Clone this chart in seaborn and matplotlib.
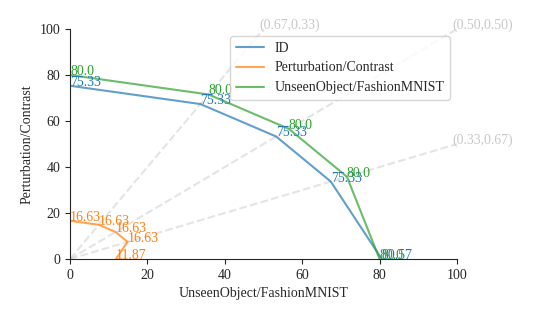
import pandas as pd
import matplotlib
matplotlib.use('Agg')
import matplotlib.pyplot as plt
import seaborn as sns

# series values
id_x = [0.0, 33.69, 53.27, 67.38, 80.57]
id_y = [75.33, 67.38, 53.27, 33.69, 0.0]
id_lbl = ['75.33', '75.33', '75.33', '75.33', '80.57']

pc_x = [0.0, 7.44, 11.76, 14.87, 11.87]
pc_y = [16.63, 14.87, 11.76, 7.44, 0.0]
pc_lbl = ['16.63', '16.63', '16.63', '16.63', '11.87']

uo_x = [0.0, 35.78, 56.57, 71.55, 80.0]
uo_y = [80.0, 71.55, 56.57, 35.78, 0.0]
uo_lbl = ['80.0', '80.0', '80.0', '80.0', '80.0']

series_names = ['ID', 'Perturbation/Contrast', 'UnseenObject/FashionMNIST']

# preference rays (end points) and their labels
ray_x = [50, 100, 100]
ray_y = [100, 100, 50]
ray_lbl = ['(0.67,0.33)', '(0.50,0.50)', '(0.33,0.67)']

sns.set_style('ticks')
plt.rcParams['font.family'] = ['Liberation Serif', 'DejaVu Serif']
plt.rcParams['font.size'] = 10

df = pd.concat([
    pd.DataFrame({'x': id_x, 'y': id_y, 'series': series_names[0]}),
    pd.DataFrame({'x': pc_x, 'y': pc_y, 'series': series_names[1]}),
    pd.DataFrame({'x': uo_x, 'y': uo_y, 'series': series_names[2]}),
], ignore_index=True)

fig = plt.figure(figsize=(5.34, 3.21), dpi=100)
ax = fig.add_axes([0.1311, 0.1931, 0.7247, 0.7165])

# dashed rays from the origin
for rx, ry, lbl in zip(ray_x, ray_y, ray_lbl):
    ax.plot([0, rx], [0, ry], ls='--', color='lightgray', alpha=0.6, lw=1.5, zorder=1)
    ax.annotate(lbl, (rx, ry), xytext=(-3, 0), textcoords='offset points',
                color='#c8c8c8', fontsize=10, ha='left', va='baseline',
                annotation_clip=False)

colors = sns.color_palette('tab10', 3)
sns.lineplot(data=df, x='x', y='y', hue='series', palette=colors, sort=False,
             estimator=None, alpha=0.7, lw=1.5, ax=ax)

# value labels at each point
for xs, ys, lbls, c in zip([id_x, pc_x, uo_x], [id_y, pc_y, uo_y],
                           [id_lbl, pc_lbl, uo_lbl], colors):
    for x, y, t in zip(xs, ys, lbls):
        ax.text(x, y, t, color=c, fontsize=10)

ax.set_xlim(0, 100)
ax.set_ylim(0, 100)
ax.set_xticks([0, 20, 40, 60, 80, 100])
ax.set_yticks([0, 20, 40, 60, 80, 100])
ax.set_xlabel('UnseenObject/FashionMNIST')
ax.set_ylabel('Perturbation/Contrast')
sns.despine(ax=ax)
ax.legend(loc='upper right', fontsize=10, title=None)

fig.savefig('out.png', dpi=100)
